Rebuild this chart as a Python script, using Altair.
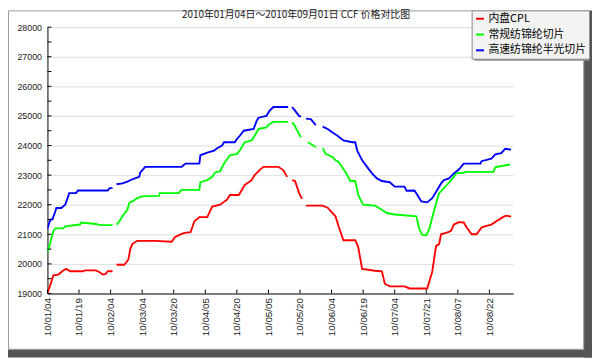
import altair as alt
import pandas as pd

# ---------------- data ----------------
title_text = "2010年01月04日～2010年09月01日  CCF  价格对比图"
series_names = ["内盘CPL", "常规纺锦纶切片", "高速纺锦纶半光切片"]
series_colors = ["#ff0000", "#00ff00", "#0000ff"]

tick_labels = ["10/01/04", "10/01/19", "10/02/04", "10/03/04", "10/03/20",
               "10/04/05", "10/04/20", "10/05/05", "10/05/20", "10/06/04",
               "10/06/19", "10/07/04", "10/07/21", "10/08/07", "10/08/22"]
tick_step = 32          # position units between two labelled dates
pos_max = 472           # last position on the axis

y_ticks_major = list(range(19000, 28001, 1000))
y_ticks_minor = list(range(19000, 28001, 500))

# (position, price); (None, None) marks a gap in the line
red = [(0, 19000), (6, 19610), (11, 19640), (16, 19780), (19, 19830), (23, 19750),
       (36, 19750), (38, 19780), (49, 19780), (53, 19720), (56, 19640), (59, 19660),
       (61, 19750), (66, 19750), (None, None),
       (70, 19970), (78, 19970), (82, 20150), (84, 20500), (86, 20670), (91, 20780),
       (109, 20780), (126, 20750), (129, 20900), (135, 21000), (139, 21050), (145, 21070),
       (149, 21440), (154, 21580), (162, 21580), (167, 21940), (175, 22000), (182, 22170),
       (185, 22330), (194, 22330), (197, 22500), (200, 22670), (207, 22830), (210, 23000),
       (215, 23170), (219, 23280), (234, 23280), (239, 23170), (243, 22940), (None, None),
       (248, 22830), (251, 22800), (255, 22400), (258, 22200), (None, None),
       (262, 21970), (279, 21970), (284, 21900), (292, 21610), (295, 21280), (300, 20800),
       (312, 20800), (315, 20570), (319, 19830), (332, 19770), (339, 19750), (342, 19330),
       (347, 19240), (362, 19240), (367, 19170), (385, 19170), (390, 19730), (394, 20610),
       (397, 20670), (399, 21000), (404, 21050), (409, 21110), (412, 21330), (417, 21410),
       (422, 21400), (425, 21230), (430, 21000), (435, 21000), (440, 21230), (444, 21280),
       (450, 21330), (455, 21440), (462, 21590), (465, 21630), (470, 21600)]

green = [(0, 20390), (3, 20730), (6, 21110), (8, 21200), (16, 21200), (18, 21270),
         (33, 21330), (34, 21400), (49, 21350), (53, 21310), (66, 21310), (None, None),
         (70, 21330), (73, 21440), (76, 21610), (81, 21830), (83, 22060), (86, 22110),
         (91, 22220), (96, 22280), (113, 22300), (114, 22390), (133, 22390), (136, 22500),
         (154, 22500), (155, 22760), (162, 22830), (167, 22940), (170, 23090), (175, 23130),
         (179, 23390), (185, 23670), (192, 23720), (195, 23830), (200, 24110), (207, 24170),
         (210, 24330), (214, 24560), (222, 24610), (224, 24700), (229, 24800), (244, 24800),
         (None, None),
         (248, 24780), (250, 24720), (254, 24450), (257, 24280), (None, None),
         (264, 24110), (267, 24050), (272, 23940), (None, None),
         (279, 23910), (282, 23720), (289, 23610), (292, 23500), (295, 23450), (302, 23110),
         (307, 22800), (312, 22800), (315, 22330), (320, 22000), (332, 21970), (339, 21830),
         (344, 21720), (352, 21670), (374, 21610), (377, 21170), (380, 20980), (384, 20970),
         (387, 21170), (390, 21560), (394, 22060), (397, 22390), (402, 22560), (405, 22670),
         (412, 22940), (414, 23060), (422, 23080), (424, 23110), (452, 23110), (454, 23260),
         (459, 23300), (469, 23360)]

blue = [(0, 21190), (3, 21500), (5, 21500), (8, 21780), (9, 21890), (14, 21890),
        (18, 22000), (21, 22280), (22, 22390), (29, 22390), (31, 22480), (61, 22480),
        (63, 22560), (66, 22560), (None, None),
        (70, 22690), (76, 22720), (81, 22780), (86, 22860), (93, 22940), (94, 23080),
        (99, 23280), (136, 23280), (140, 23390), (154, 23390), (155, 23670), (162, 23760),
        (169, 23830), (172, 23910), (177, 24000), (179, 24110), (190, 24110), (192, 24220),
        (195, 24330), (199, 24500), (209, 24560), (212, 24830), (214, 24940), (222, 25000),
        (225, 25170), (229, 25300), (244, 25300), (None, None),
        (248, 25300), (250, 25220), (255, 25000), (257, 24980), (None, None),
        (262, 24910), (267, 24890), (272, 24690), (None, None),
        (279, 24640), (284, 24560), (289, 24440), (294, 24330), (300, 24170), (309, 24110),
        (312, 24110), (314, 23830), (319, 23500), (324, 23280), (329, 23060), (334, 22890),
        (339, 22800), (347, 22760), (352, 22610), (362, 22610), (364, 22470), (372, 22480),
        (375, 22330), (379, 22110), (385, 22080), (390, 22220), (394, 22440), (399, 22720),
        (402, 22830), (407, 22890), (412, 23060), (417, 23190), (422, 23390), (439, 23390),
        (440, 23470), (450, 23560), (454, 23700), (460, 23740), (464, 23890), (470, 23860)]

# ---------------- build table ----------------
rows = []
for name, pts in zip(series_names, [red, green, blue]):
    seg = 0
    for t, v in pts:
        if t is None:
            seg += 1
            continue
        rows.append({"series": name, "seg": f"{name}-{seg}", "t": t, "price": v})
df = pd.DataFrame(rows)

x_tick_values = [i * tick_step for i in range(len(tick_labels))]
label_js = "[" + ",".join(f"'{s}'" for s in tick_labels) + "]"

FONT = "Liberation Sans"
CJK = "Noto Sans CJK SC"

x_scale = alt.Scale(domain=[0, pos_max], nice=False, zero=False)
y_scale = alt.Scale(domain=[19000, 28000], nice=False, zero=False)

x_axis = alt.Axis(values=x_tick_values,
                  labelExpr=f"{label_js}[round(datum.value/{tick_step})]",
                  labelAngle=-90, labelFont=FONT, labelFontSize=10, labelColor="#222",
                  labelPadding=4, ticks=False, grid=False, domainColor="#000",
                  title=None, labelOverlap=False, labelFlush=False, labelBound=False)
y_axis = alt.Axis(values=y_ticks_major, format="d", labelFont=FONT, labelFontSize=9,
                  labelColor="#222", labelPadding=6, ticks=False, grid=True,
                  gridColor="#dddddd", domainColor="#000", title=None,
                  labelOverlap=False, labelFlush=False, labelBound=False)

lines = alt.Chart(df).mark_line(strokeWidth=1.9, clip=True).encode(
    x=alt.X("t:Q", scale=x_scale, axis=x_axis),
    y=alt.Y("price:Q", scale=y_scale, axis=y_axis),
    color=alt.Color("series:N",
                    scale=alt.Scale(domain=series_names, range=series_colors),
                    sort=series_names,
                    legend=alt.Legend(orient="none", legendX=430, legendY=-17, title=None,
                                      symbolType="stroke", symbolSize=64, symbolStrokeWidth=2,
                                      labelFont=CJK, labelFontSize=11, labelColor="#000",
                                      fillColor="#f3f3f3", strokeColor="#8c8c8c",
                                      padding=3, rowPadding=4, labelOffset=3)),
    detail="seg:N",
    order="t:Q",
)

ytick_df = pd.DataFrame({"price": y_ticks_minor})
yticks = alt.Chart(ytick_df).mark_rule(color="#000", strokeWidth=1).encode(
    y=alt.Y("price:Q", scale=y_scale, axis=y_axis), x=alt.value(0), x2=alt.value(4))

xtick_df = pd.DataFrame({"t": x_tick_values})
xticks = alt.Chart(xtick_df).mark_rule(color="#000", strokeWidth=1).encode(
    x=alt.X("t:Q", scale=x_scale, axis=x_axis), y=alt.value(266), y2=alt.value(270))

one = pd.DataFrame({"a": [0]})
title_mark = alt.Chart(one).mark_text(font=CJK, fontSize=10, color="#222",
                                      align="center", baseline="middle").encode(
    x=alt.value(252), y=alt.value(-12), text=alt.value(title_text))
legend_shadow = alt.Chart(one).mark_rect(color="#8a8a8a").encode(
    x=alt.value(433), x2=alt.value(549), y=alt.value(-14), y2=alt.value(34))
frame_right = alt.Chart(one).mark_rect(color="#555555").encode(
    x=alt.value(544), x2=alt.value(552), y=alt.value(-17), y2=alt.value(335))
frame_bottom = alt.Chart(one).mark_rect(color="#555555").encode(
    x=alt.value(-40), x2=alt.value(552), y=alt.value(327), y2=alt.value(335))
frame_line = alt.Chart(one).mark_rect(fillOpacity=0, stroke="#9a9a9a", strokeWidth=1).encode(
    x=alt.value(-39.5), x2=alt.value(543.5), y=alt.value(-16.5), y2=alt.value(326.5))

chart = alt.layer(frame_line, lines, yticks, xticks, frame_right, frame_bottom, legend_shadow,
                  title_mark).properties(
    width=472, height=270,
    autosize=alt.AutoSizeParams(type="none"),
    padding={"left": 40, "top": 17, "right": 80, "bottom": 65},
    background="white",
).configure_view(stroke=None).configure_axis(labelOverlap=False)

chart.save("out.html", embed_options={"renderer": "svg", "actions": False})
